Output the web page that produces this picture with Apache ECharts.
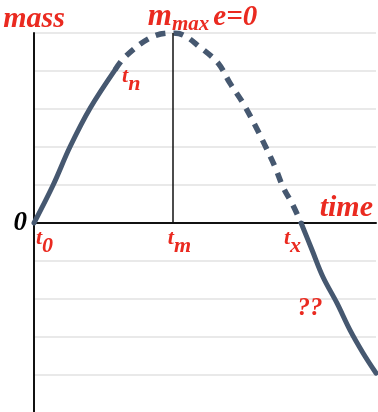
<!DOCTYPE html>
<html>
<head>
<meta charset="utf-8">
<script src="https://cdn.jsdelivr.net/npm/echarts@6/dist/echarts.min.js"></script>
<style>
    html, body { margin: 0; padding: 0; background: #fff; }
    #chart { width: 378px; height: 412px; }
</style>
</head>
<body>
<div id="chart"></div>
<script>
// key times on the axis
var tZero = 0;
var tNow = 2.37;   // t_n, where the known (solid) part stops
var tMax = 4.06;   // t_m, top of the curve
var tCross = 7.81; // t_x, mass back to zero

// curve pieces, [time, mass]
var riseSolid = [[0, 0], [0.56, 1.0], [1.05, 2.0], [1.64, 3.02], [2.37, 4.03]];
var arcDashed = [[2.37, 4.03], [2.66, 4.37], [3.39, 4.87], [4.0, 5.0], [4.36, 4.95], [4.85, 4.63],
    [5.38, 4.21], [5.73, 3.68], [6.11, 3.16], [6.46, 2.58], [6.75, 2.05], [7.05, 1.47],
    [7.28, 0.95], [7.57, 0.47], [7.81, 0]];
var fallSolid = [[7.81, 0], [8.13, -0.71], [8.45, -1.42], [8.86, -2.11], [9.24, -2.82],
    [9.62, -3.42], [10, -3.95]];

// annotations
var noteTexts = ['{t|t}{s|0}', '{t|t}{s|m}', '{t|t}{s|x}', '{t|t}{s|n}', '{big|m}{sub|max}{eq|e=0}', '{q|??}'];
var noteX = [tZero, tMax, tCross, tNow, tMax, 8.07];
var noteY = [0, 0, 0, 4.03, 5, -2.24];

var red = '#ea2a20';
var lineColor = '#465870';
var serif = "'Liberation Serif', 'DejaVu Serif', serif";

// how each note sits around its point
var noteLook = [
    {align: 'left', verticalAlign: 'top', offset: [2, 4]},
    {align: 'left', verticalAlign: 'top', offset: [-5, 4]},
    {align: 'right', verticalAlign: 'top', offset: [0, 4]},
    {align: 'left', verticalAlign: 'top', offset: [7, -5]},
    {align: 'left', verticalAlign: 'bottom', offset: [-25, 2]},
    {align: 'center', verticalAlign: 'middle', offset: [0, 0]}
];

var notes = [];
for (var i = 0; i < noteTexts.length; i++) {
    notes.push({
        value: [noteX[i], noteY[i]],
        label: {
            show: true,
            position: 'inside',
            formatter: noteTexts[i],
            align: noteLook[i].align,
            verticalAlign: noteLook[i].verticalAlign,
            offset: noteLook[i].offset
        }
    });
}

function redText(size, extra) {
    var s = {color: red, fontFamily: serif, fontWeight: 'bold', fontStyle: 'italic', fontSize: size,
        textBorderWidth: 0};
    for (var k in extra) s[k] = extra[k];
    return s;
}

var chart = echarts.init(document.getElementById('chart'));

var option = {
    backgroundColor: '#fff',
    animation: false,
    grid: {
        left: 34,
        right: 2,
        top: 33,
        bottom: -1,
        containLabel: false,
        outerBoundsMode: 'none'
    },
    xAxis: {
        type: 'value',
        min: 0,
        max: 10,
        name: 'time',
        nameLocation: 'end',
        nameGap: -3,
        nameTextStyle: redText(30, {align: 'right', verticalAlign: 'bottom'}),
        axisLine: {
            show: true,
            onZero: true,
            lineStyle: {color: '#111', width: 2}
        },
        axisTick: {show: false},
        axisLabel: {show: false},
        splitLine: {show: false}
    },
    yAxis: {
        type: 'value',
        min: -5,
        max: 5,
        interval: 1,
        name: 'mass',
        nameLocation: 'end',
        nameGap: -1,
        nameTextStyle: redText(30, {align: 'center', verticalAlign: 'bottom'}),
        axisLine: {
            show: true,
            onZero: false,
            lineStyle: {color: '#111', width: 2}
        },
        axisTick: {show: false},
        axisLabel: {
            margin: 7,
            color: '#000',
            fontFamily: serif,
            fontWeight: 'bold',
            fontStyle: 'italic',
            fontSize: 27,
            padding: [4, 0, 0, 0],
            formatter: function (v) {
                return v === 0 ? '0' : '';
            }
        },
        splitLine: {
            show: true,
            lineStyle: {color: '#e2e2e2', width: 1.5}
        }
    },
    series: [
        {
            name: 'tm line',
            type: 'line',
            data: [],
            markLine: {
                silent: true,
                symbol: ['none', 'none'],
                label: {show: false},
                lineStyle: {color: '#111', width: 1.5, type: 'solid'},
                data: [[{coord: [tMax, 0]}, {coord: [tMax, 5]}]]
            }
        },
        {
            name: 'rise',
            type: 'line',
            data: riseSolid,
            smooth: 0.35,
            showSymbol: false,
            lineStyle: {color: lineColor, width: 5, cap: 'round'}
        },
        {
            name: 'arc',
            type: 'line',
            data: arcDashed,
            smooth: 0.35,
            showSymbol: false,
            lineStyle: {color: lineColor, width: 5.5, type: [10, 8], cap: 'butt'}
        },
        {
            name: 'fall',
            type: 'line',
            data: fallSolid,
            smooth: 0.35,
            showSymbol: false,
            lineStyle: {color: lineColor, width: 5, cap: 'round'}
        },
        {
            name: 'notes',
            type: 'scatter',
            symbolSize: 0,
            clip: false,
            silent: true,
            z: 5,
            itemStyle: {opacity: 1},
            data: notes,
            label: {
                color: red,
                textBorderWidth: 0,
                fontFamily: serif,
                fontWeight: 'bold',
                fontStyle: 'italic',
                rich: {
                    t: redText(22, {verticalAlign: 'bottom', padding: [0, 0, 8, 0]}),
                    s: redText(22, {verticalAlign: 'bottom'}),
                    big: redText(31, {verticalAlign: 'bottom', padding: [0, 0, 3, 0]}),
                    sub: redText(21, {verticalAlign: 'bottom'}),
                    eq: redText(29, {verticalAlign: 'bottom', padding: [0, 0, 3, 4]}),
                    q: redText(25, {})
                }
            }
        }
    ]
};

chart.setOption(option);
</script>
</body>
</html>
